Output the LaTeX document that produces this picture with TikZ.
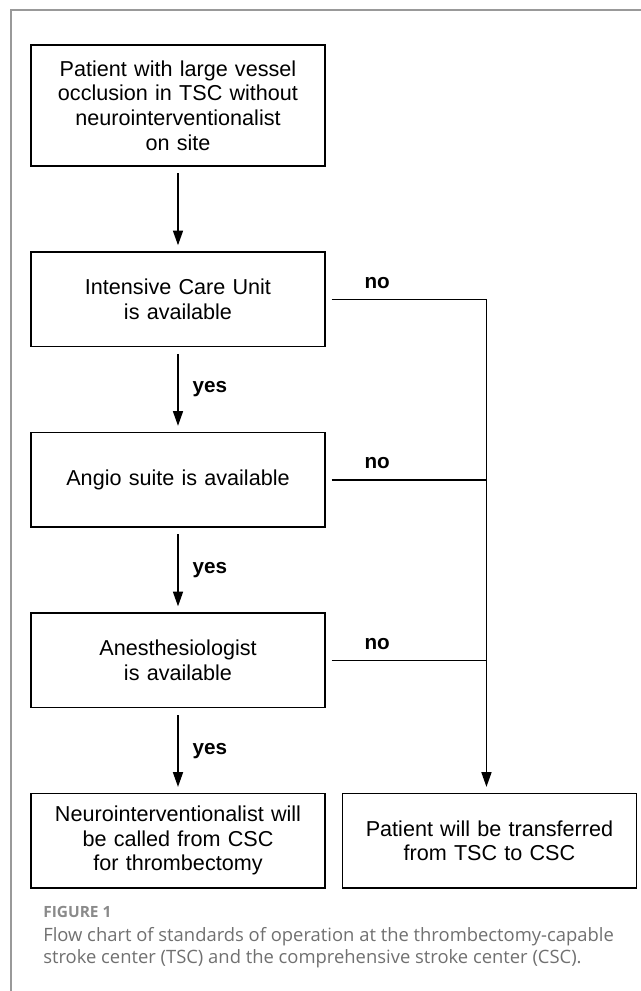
\documentclass[tikz,border=0pt]{standalone}
\usepackage{fontspec}
\setmainfont{Liberation Sans}
\newfontfamily\capfont{Open Sans}
\usepackage{tikz}
\usetikzlibrary{arrows.meta}
\usetikzlibrary{positioning}
\definecolor{framegray}{HTML}{999999}
\definecolor{labelgray}{HTML}{8A8A8A}
\definecolor{captiongray}{HTML}{707070}
\tikzset{flow/.style={draw=black,line width=1.1pt,-{Triangle[length=11pt,width=7.5pt]},shorten >=4.5pt,shorten <=5pt}}
\tikzset{branch/.style={draw=black,line width=1.1pt,shorten <=4.5pt}}
\tikzset{stage/.style={rectangle,draw=black,fill=white,line width=1.1pt,inner sep=5pt,text width=210.5pt,align=center,minimum height=70.9pt,font=\fontsize{16.2}{18.4}\selectfont}}
\tikzset{answer/.style={inner sep=0pt,font=\fontsize{15.5}{18}\selectfont\bfseries}}
\tikzset{flows/.style={every edge/.style=flow}}
\tikzset{stages/.style={row sep=63.4pt, column sep=12pt, every node/.style=stage}}

\begin{document}
\begin{tikzpicture}[x=0.75pt,y=-0.75pt]
  \useasboundingbox (0,0) rectangle (641,991);
  \draw [framegray, line width=1.5pt] (641,10) -- (11,10) -- (11,991);
  \matrix (chart) [stages, inner sep=0pt, anchor=north west] at (30,44)
  {
    \node (start) [minimum height=90.75pt] {Patient with large vessel\\occlusion in TSC without\\neurointerventionalist\\on site}; & \\
    \node (icu) {Intensive Care Unit\\is available}; & \\
    \node (angio) {Angio suite is available}; & \\
    \node (anest) {Anesthesiologist\\is available}; & \\
    \node (called) {Neurointerventionalist will\\be called from CSC\\for thrombectomy}; &
    \node (transfer) {Patient will be transferred\\from TSC to CSC}; \\
  };
  \path [flows]
  (start) edge (icu)
  (icu) edge node [answer, right=10.5pt] {yes} (angio)
  (angio) edge node [answer, right=10.5pt] {yes} (anest)
  (anest) edge node [answer, right=10.5pt] {yes} (called);
  \coordinate (merge) at ([xshift=-2.25pt]transfer.north |- icu.east);
  \draw [branch, -{Triangle[length=11pt,width=7.5pt]}, shorten >=4.5pt]
  (icu.east) -- node [answer, above=7.5pt, pos=0.32] {no} (merge) -- ([xshift=-2.25pt]transfer.north);
  \draw [branch] (angio.east) -- node [answer, above=7.5pt, pos=0.32] {no} (angio.east -| merge);
  \draw [branch] (anest.east) -- node [answer, above=7.5pt, pos=0.32] {no} (anest.east -| merge);
  % caption
  \node (figno) [anchor=base west, inner sep=0pt, text=labelgray, font=\capfont\fontsize{11.6}{13}\selectfont\bfseries] at (43,917) {FIGURE 1};
  \node (capone) [anchor=base west, inner sep=0pt, text=captiongray, font=\capfont\fontsize{13.8}{16}\selectfont] at (43,941) {Flow chart of standards of operation at the thrombectomy-capable};
  \node (captwo) [anchor=base west, inner sep=0pt, text=captiongray, font=\capfont\fontsize{13.8}{16}\selectfont] at (43,963) {stroke center (TSC) and the comprehensive stroke center (CSC).};
\end{tikzpicture}
\end{document}
